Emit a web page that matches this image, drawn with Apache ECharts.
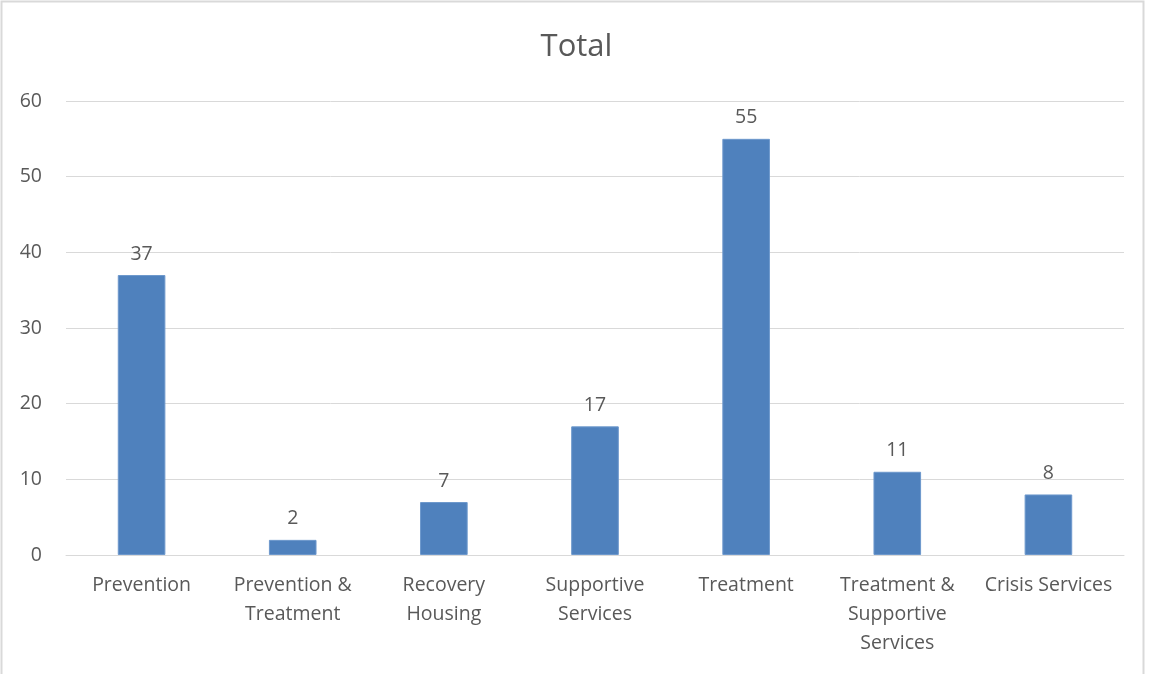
<!DOCTYPE html>
<html>
<head>
<meta charset="utf-8">
<script src="https://cdn.jsdelivr.net/npm/echarts@6/dist/echarts.min.js"></script>
<style>
  html, body { margin: 0; padding: 0; background: #fff; }
  #chart { width: 1153px; height: 674px; }
</style>
</head>
<body>
<div id="chart"></div>
<script>
  const categories = [
    'Prevention',
    'Prevention &\nTreatment',
    'Recovery\nHousing',
    'Supportive\nServices',
    'Treatment',
    'Treatment &\nSupportive\nServices',
    'Crisis Services'
  ]
  const totals = [37, 2, 7, 17, 55, 11, 8]

  const textColor = '#595959'
  const font = 'Open Sans'

  const chart = echarts.init(document.getElementById('chart'))
  chart.setOption({
    backgroundColor: '#fff',
    animation: false,
    title: {
      text: 'Total',
      left: 'center',
      top: 27,
      textStyle: { color: textColor, fontSize: 31, fontWeight: 'normal', fontFamily: font }
    },
    graphic: [{
      type: 'rect',
      shape: { x: 1.5, y: 1.5, width: 1142, height: 680 },
      style: { fill: 'none', stroke: '#d9d9d9', lineWidth: 2 },
      silent: true
    }],
    grid: { left: 66, right: 29, top: 101, bottom: 119 },
    xAxis: {
      type: 'category',
      data: categories,
      axisLine: { lineStyle: { color: '#d9d9d9', width: 1 } },
      axisTick: { show: false },
      axisLabel: {
        interval: 0,
        color: textColor,
        fontSize: 19.5,
        fontFamily: font,
        lineHeight: 29,
        margin: 16
      }
    },
    yAxis: {
      type: 'value',
      min: 0,
      max: 60,
      interval: 10,
      axisLine: { show: false },
      axisTick: { show: false },
      splitLine: { lineStyle: { color: '#d9d9d9', width: 1 } },
      axisLabel: { color: textColor, fontSize: 19.5, fontFamily: font, margin: 24 }
    },
    series: [{
      type: 'bar',
      data: totals,
      barWidth: '31.5%',
      itemStyle: { color: '#4f81bd', borderColor: '#6d98cc', borderWidth: 1 },
      label: {
        show: true,
        position: 'top',
        distance: 11,
        color: textColor,
        fontSize: 19.5,
        fontFamily: font
      }
    }]
  })
</script>
</body>
</html>
